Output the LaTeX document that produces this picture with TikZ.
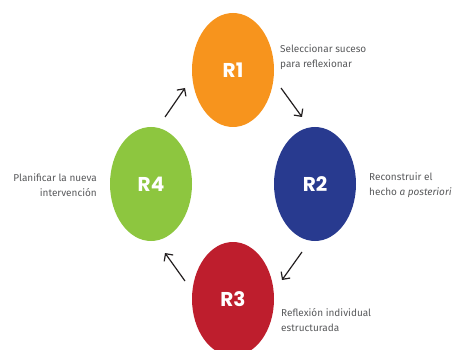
\documentclass[tikz,border=0pt]{standalone}
\usepackage{fontspec}
\setmainfont{Poppins}
\newfontfamily\notafont{Fira Sans}
\usetikzlibrary{shapes.geometric,arrows.meta}
\definecolor{naranja}{HTML}{F7941D}
\definecolor{azul}{HTML}{283A8F}
\definecolor{rojo}{HTML}{BE1E2D}
\definecolor{verde}{HTML}{8DC63F}
\definecolor{texto}{HTML}{58595B}
\definecolor{flecha}{HTML}{231F20}
\tikzset{
  fase/.style={ellipse, minimum width=82pt, minimum height=114pt, inner sep=0pt,
    text=white, font=\fontsize{20}{20}\selectfont\bfseries},
  nota/.style={text=texto, font=\notafont\fontsize{10}{15}\selectfont, inner sep=0pt},
  ciclo/.style={flecha, line width=1.2pt, -{Straight Barb[length=5.5pt,width=11pt]}}
}
\begin{document}
\begin{tikzpicture}[x=1pt,y=-1pt]
  \useasboundingbox (0,0) rectangle (455,350);
  % fases
  \node[fase, fill=naranja] (r1) at (233,70) {R1};
  \node[fase, fill=azul] (r2) at (315,184) {R2};
  \node[fase, fill=rojo] (r3) at (233,299) {R3};
  \node[fase, fill=verde] (r4) at (151,184) {R4};
  % notas
  \node[nota, anchor=west, align=left] (n1) at (280,57) {Seleccionar suceso\\para reflexionar};
  \node[nota, anchor=west, align=left] (n2) at (369,185) {Reconstruir el\\hecho \textit{a posteriori}};
  \node[nota, anchor=west, align=left] (n3) at (281,320) {Reflexión individual\\estructurada};
  \node[nota, anchor=east, align=right] (n4) at (97,185) {Planificar la nueva\\intervención};
  % flechas
  \coordinate (f1a) at (281,88);  \coordinate (f1b) at (302,117);
  \coordinate (f2a) at (302,252); \coordinate (f2b) at (282,280);
  \coordinate (f3a) at (185,281); \coordinate (f3b) at (165,253);
  \coordinate (f4a) at (165,117); \coordinate (f4b) at (185,88);
  \draw[ciclo] (f1a) -- (f1b);
  \draw[ciclo] (f2a) -- (f2b);
  \draw[ciclo] (f3a) -- (f3b);
  \draw[ciclo] (f4a) -- (f4b);
\end{tikzpicture}
\end{document}
